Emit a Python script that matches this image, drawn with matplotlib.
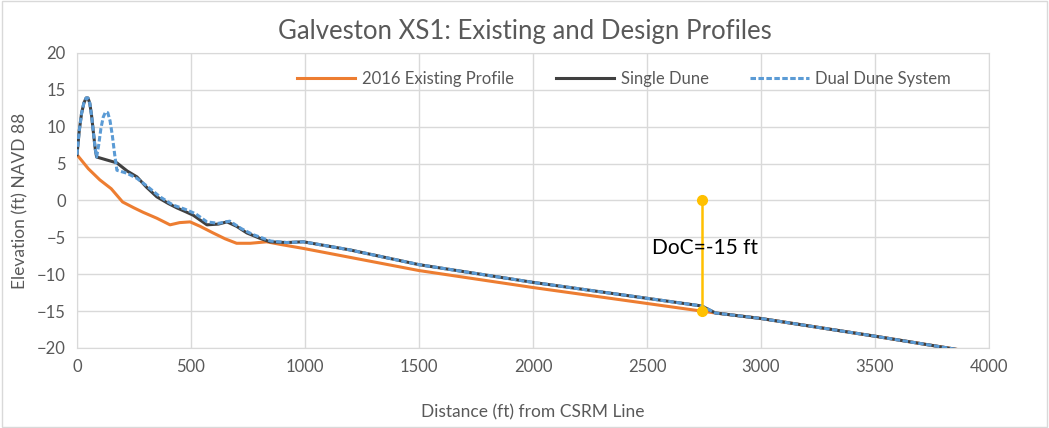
import matplotlib.pyplot as plt
from matplotlib.patches import Rectangle

# Cross-shore profile data: distance (ft) from CSRM line, elevation (ft NAVD 88)
existing_x = [0, 50, 100, 150, 200, 250, 290, 350, 408, 450, 496, 540, 597,
              650, 700, 760, 832, 900, 993, 1500, 2000, 2740, 2800, 3000, 3500, 3900]
existing_y = [6.2, 4.3, 2.8, 1.6, -0.2, -1.0, -1.6, -2.4, -3.3, -3.0, -2.9, -3.5, -4.4,
              -5.2, -5.8, -5.8, -5.6, -6.0, -6.5, -9.5, -11.8, -15.0, -15.25, -16.0, -18.4, -20.4]

single_x = [0, 10, 20, 30, 40, 48, 56, 64, 72, 80, 86, 130, 175, 220, 263, 305, 350,
            400, 438, 475, 510, 570, 620, 658, 700, 745, 800, 846, 920, 993, 1197,
            1500, 2000, 2740, 2800, 3000, 3500, 3900]
single_y = [6.2, 9.5, 11.8, 13.2, 13.9, 13.9, 13.2, 11.5, 9.2, 7.0, 5.9, 5.5, 5.1, 4.0, 3.2, 1.8, 0.5,
            -0.4, -1.0, -1.5, -2.0, -3.3, -3.2, -2.9, -3.5, -4.4, -5.1, -5.6, -5.7, -5.6, -6.7,
            -8.7, -11.1, -14.3, -15.25, -16.0, -18.4, -20.4]

dual_x = [0, 10, 20, 30, 40, 48, 56, 64, 72, 80, 86, 95, 105, 115, 125, 135, 145, 155,
          165, 175, 219, 263, 305, 364, 420, 475, 520, 570, 620, 670, 720, 770, 850, 920,
          993, 1197, 1500, 2000, 2740, 2800, 3000, 3500, 3900]
dual_y = [6.2, 9.5, 11.8, 13.2, 13.9, 13.9, 13.2, 11.5, 9.2, 7.0, 5.9, 7.5, 9.8, 11.3, 12.0,
          11.9, 10.8, 8.8, 6.3, 4.1, 3.7, 3.0, 2.0, 0.5, -0.6, -1.2, -1.8, -2.9, -3.1, -2.8,
          -3.8, -4.6, -5.5, -5.7, -5.6, -6.7, -8.7, -11.1, -14.3, -15.25, -16.0, -18.4, -20.4]

# Depth of closure marker
doc_x = [2740, 2740]
doc_y = [0, -15]
doc_label = "DoC=-15 ft"

x_ticks = [0, 500, 1000, 1500, 2000, 2500, 3000, 3500, 4000]
y_ticks = [-20, -15, -10, -5, 0, 5, 10, 15, 20]

plt.rcParams['font.family'] = ['Lato', 'DejaVu Sans']

fig = plt.figure(figsize=(10.49, 4.28), dpi=100)
ax = fig.add_axes([77 / 1049, 1 - 348 / 428, (989 - 77) / 1049, (348 - 53) / 428])

# Profiles
ax.plot(existing_x, existing_y, color='#ED7D31', lw=2.2, label='2016 Existing Profile', zorder=3)
ax.plot(single_x, single_y, color='#404040', lw=2.2, label='Single Dune', zorder=4)
ax.plot(dual_x, dual_y, color='#5B9BD5', lw=2.2, ls=(0, (1.8, 0.8)), label='Dual Dune System', zorder=5)

# Depth of closure line with end markers
ax.plot(doc_x, doc_y, color='#FFC000', lw=1.8, marker='o', ms=7, zorder=6)
ax.text(2522, -6.4, doc_label, fontsize=15, color='black', va='center', ha='left', zorder=7)

# Axes limits, ticks and grid
ax.set_xlim(0, 4000)
ax.set_ylim(-20, 20)
ax.set_xticks(x_ticks)
ax.set_yticks(y_ticks)
ax.grid(True, color='#D9D9D9', lw=1.0)
ax.set_axisbelow(True)
for spine in ax.spines.values():
    spine.set_color('#D9D9D9')
ax.tick_params(length=0, labelsize=12, colors='#595959', pad=8)

# Labels and title
ax.set_xlabel('Distance (ft) from CSRM Line', fontsize=12.5, color='#595959', labelpad=21)
ax.set_ylabel('Elevation (ft) NAVD 88', fontsize=12.5, color='#595959', labelpad=6)
fig.text(0.5, 1 - 32 / 428, 'Galveston XS1: Existing and Design Profiles',
         fontsize=18.5, color='#595959', ha='center', va='center')

# Legend across the top of the plot
ax.legend(loc='upper center', bbox_to_anchor=(0.6, 0.99), ncol=3, frameon=False,
          fontsize=12, labelcolor='#595959', handlelength=3.5, handletextpad=0.4,
          columnspacing=2.5)

# Outer chart border
fig.patches.append(Rectangle((0.002, 0.002), 0.996, 0.996, transform=fig.transFigure,
                             fill=False, edgecolor='#D9D9D9', lw=1.0))

fig.savefig('out.png', dpi=100)
